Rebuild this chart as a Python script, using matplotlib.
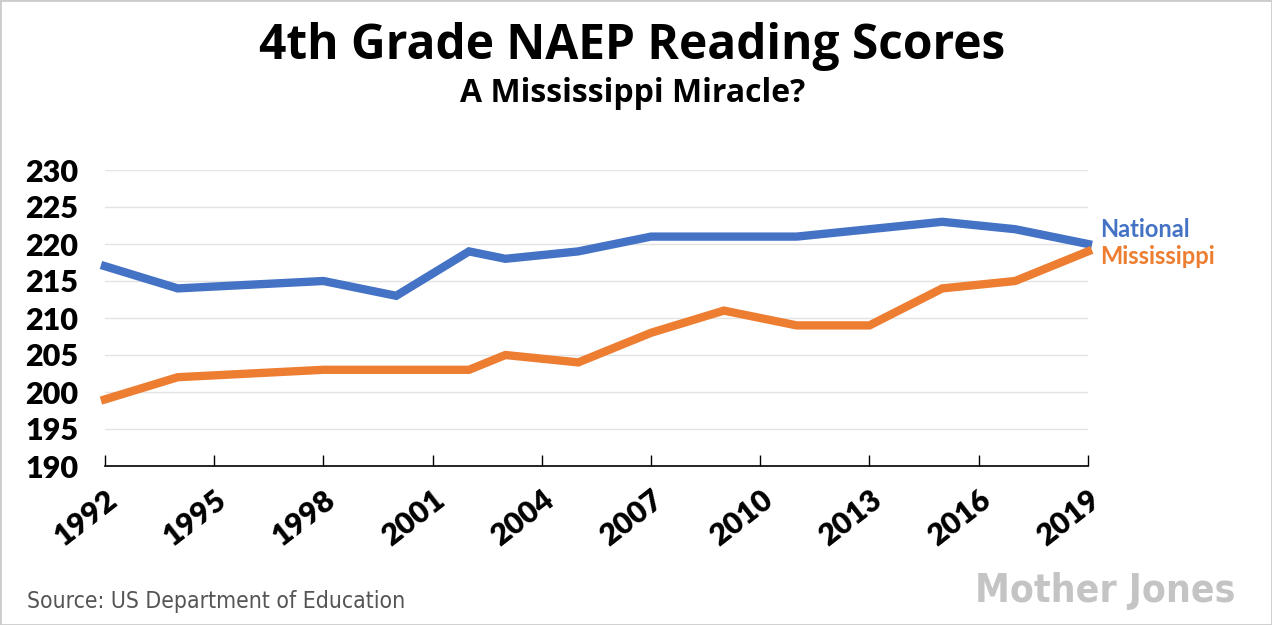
import matplotlib
matplotlib.use("Agg")
import matplotlib.pyplot as plt
from matplotlib.patches import Rectangle

# NAEP 4th grade reading, average scale scores
years_nat = [1992, 1994, 1998, 2000, 2002, 2003, 2005, 2007, 2009, 2011, 2013, 2015, 2017, 2019]
national = [217, 214, 215, 213, 219, 218, 219, 221, 221, 221, 222, 223, 222, 220]
years_ms = [1992, 1994, 1998, 2002, 2003, 2005, 2007, 2009, 2011, 2013, 2015, 2017, 2019]
mississippi = [199, 202, 203, 203, 205, 204, 208, 211, 209, 209, 214, 215, 219]

x_ticks = [1992, 1995, 1998, 2001, 2004, 2007, 2010, 2013, 2016, 2019]
y_ticks = [190, 195, 200, 205, 210, 215, 220, 225, 230]

blue = "#4472C4"
orange = "#ED7D31"

fig = plt.figure(figsize=(12.72, 6.25), dpi=100)
fig.patch.set_facecolor("white")
fig.patches.append(Rectangle((0, 0), 1, 1, transform=fig.transFigure, fill=False,
                             edgecolor="#cccccc", linewidth=2))

ax = fig.add_axes([0.0825, 0.2544, 0.7728, 0.4736])
ax.plot(years_nat, national, color=blue, lw=6, solid_joinstyle="miter", clip_on=False)
ax.plot(years_ms, mississippi, color=orange, lw=6, solid_joinstyle="miter", clip_on=False)

ax.set_xlim(1992, 2019)
ax.set_ylim(190, 230)
ax.set_yticks(y_ticks)
ax.set_xticks(x_ticks)
ax.grid(axis="y", color="#e3e3e3", lw=1)
ax.set_axisbelow(True)
for s in ["top", "right", "left"]:
    ax.spines[s].set_visible(False)
ax.spines["bottom"].set_color("black")
ax.spines["bottom"].set_linewidth(1.2)
ax.tick_params(axis="y", length=0, pad=19)
ax.tick_params(axis="x", direction="in", length=8, width=1, pad=14)

for lbl in ax.get_yticklabels():
    lbl.set_fontfamily("Lato")
    lbl.set_fontweight("heavy")
    lbl.set_fontsize(22)
for lbl in ax.get_xticklabels():
    lbl.set_fontfamily("Lato")
    lbl.set_fontweight("heavy")
    lbl.set_fontsize(22)
    lbl.set_rotation(38)
    lbl.set_ha("right")
    lbl.set_rotation_mode("anchor")

ax.text(1.012, 222.0, "National", transform=ax.get_yaxis_transform(),
        color=blue, fontsize=17, fontweight="bold", fontfamily="Lato", va="center")
ax.text(1.012, 218.3, "Mississippi", transform=ax.get_yaxis_transform(),
        color=orange, fontsize=17, fontweight="bold", fontfamily="Lato", va="center")

fig.text(0.497, 0.925, "4th Grade NAEP Reading Scores", ha="center", va="center",
         fontsize=34.5, fontweight="bold", fontfamily="Open Sans")
fig.text(0.497, 0.85, "A Mississippi Miracle?", ha="center", va="center",
         fontsize=23, fontweight="bold", fontfamily="Open Sans")

fig.text(0.021, 0.038, "Source: US Department of Education", ha="left", va="center",
         fontsize=16.5, color="#555555", fontfamily="DejaVu Sans", fontstretch="condensed")
fig.text(0.971, 0.055, "Mother Jones", ha="right", va="center", fontsize=28,
         color="#c4c4c4", fontweight="bold", fontfamily="DejaVu Sans",
         fontstretch="condensed")

fig.savefig("out.png", dpi=100)
